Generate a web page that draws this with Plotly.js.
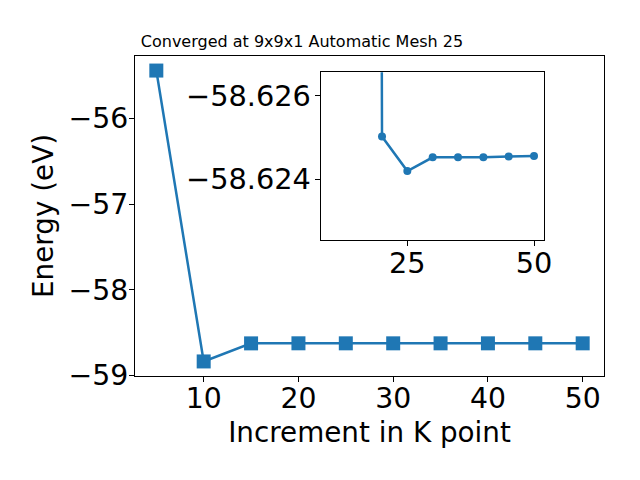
<!DOCTYPE html>
<html>
<head>
<meta charset="utf-8">
<script src="https://cdn.plot.ly/plotly-3.0.1.min.js"></script>
<style>html,body{margin:0;padding:0;background:#fff;}#chart{width:640px;height:480px;}</style>
</head>
<body>
<div id="chart"></div>
<script>
const kpoints = [5, 10, 15, 20, 25, 30, 35, 40, 45, 50];
const energy = [-55.44, -58.836, -58.62502, -58.62419, -58.62452, -58.62452, -58.62452, -58.62454, -58.62455, -58.62455];
const mainXTicks = [10, 20, 30, 40, 50];
const mainYTicks = [-59, -58, -57, -56];
const insetXTicks = [25, 50];
const insetYTicks = [-58.626, -58.624];
const insetYTickText = ['−58.626', '−58.624'];

// inset as drawn in the original: energies plotted one k-step to the right
const insetX = kpoints.slice(2);
const insetY = energy.slice(1, -1);

const blue = '#1f77b4';
const font = 'DejaVu Sans, sans-serif';

const traces = [
  {x: kpoints, y: energy, mode: 'lines+markers', type: 'scatter',
   line: {color: blue, width: 2.5},
   marker: {symbol: 'square', size: 14, color: blue},
   xaxis: 'x', yaxis: 'y', showlegend: false, hoverinfo: 'skip'},
  {x: insetX, y: insetY, mode: 'lines+markers', type: 'scatter',
   line: {color: blue, width: 2.5},
   marker: {symbol: 'circle', size: 8, color: blue},
   xaxis: 'x2', yaxis: 'y2', showlegend: false, hoverinfo: 'skip'}
];

const layout = {
  width: 640, height: 480,
  margin: {l: 135, r: 36, t: 56, b: 104},
  paper_bgcolor: '#fff', plot_bgcolor: '#fff',
  font: {family: font, color: '#000'},
  title: {text: 'Converged at 9x9x1 Automatic Mesh 25',
          font: {family: font, size: 16.0, color: '#000'},
          xref: 'container', x: 302/640, xanchor: 'center',
          yref: 'container', y: 1 - 41/480, yanchor: 'middle'},
  xaxis: {domain: [0, 1], range: [2.75, 52.25], tickvals: mainXTicks,
          ticks: 'outside', ticklen: 5, tickwidth: 1, tickcolor: '#000',
          ticklabelstandoff: -8,
          showline: true, linecolor: '#000', linewidth: 1, mirror: true,
          showgrid: false, zeroline: false,
          tickfont: {family: font, size: 28.3, color: '#000'},
          title: {text: 'Increment in K point', font: {family: font, size: 27.8, color: '#000'}, standoff: 8}},
  yaxis: {domain: [0, 1], range: [-59.006, -55.27], tickvals: mainYTicks,
          ticks: 'outside', ticklen: 5, tickwidth: 1, tickcolor: '#000',
          ticklabelstandoff: -5,
          showline: true, linecolor: '#000', linewidth: 1, mirror: true,
          showgrid: false, zeroline: false,
          tickfont: {family: font, size: 28.3, color: '#000'},
          title: {text: 'Energy (eV)', font: {family: font, size: 27.8, color: '#000'}, standoff: 6}},
  xaxis2: {domain: [(320.7-135)/469, (544-135)/469], anchor: 'y2', range: [7.9, 51.97],
           tickvals: insetXTicks,
           ticks: 'outside', ticklen: 5, tickwidth: 1, tickcolor: '#000',
           ticklabelstandoff: -8,
           showline: true, linecolor: '#000', linewidth: 1, mirror: true,
           showgrid: false, zeroline: false,
           tickfont: {family: font, size: 28.8, color: '#000'}},
  yaxis2: {domain: [(376-240)/320, (376-72.3)/320], anchor: 'x2',
           range: [-58.622536, -58.626561],
           tickvals: insetYTicks, ticktext: insetYTickText,
           ticks: 'outside', ticklen: 5, tickwidth: 1, tickcolor: '#000',
           ticklabelstandoff: -2,
           showline: true, linecolor: '#000', linewidth: 1, mirror: true,
           showgrid: false, zeroline: false,
           tickfont: {family: font, size: 28.8, color: '#000'}}
};

Plotly.newPlot('chart', traces, layout, {staticPlot: true, displayModeBar: false});
</script>
</body>
</html>
